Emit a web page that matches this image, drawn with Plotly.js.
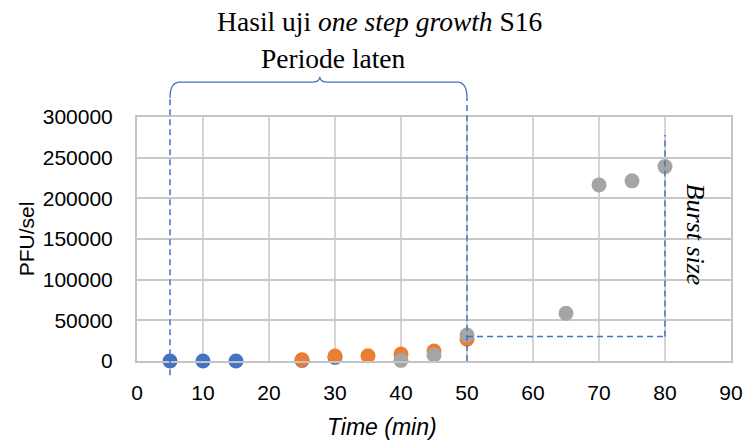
<!DOCTYPE html>
<html><head><meta charset="utf-8">
<script src="https://cdn.plot.ly/plotly-3.0.1.min.js"></script>
<style>html,body{margin:0;padding:0;background:#fff}</style>
</head><body><div id="chart" style="width:746px;height:441px"></div>
<script>
// Data
const blueX = [5, 10, 15, 25, 30];
const blueY = [0, 0, 0, 800, 4500];
const orangeX = [25, 30, 35, 40, 45, 50];
const orangeY = [1500, 6000, 6500, 8600, 12300, 26700];
const grayX = [40, 45, 50, 65, 70, 75, 80];
const grayY = [800, 7400, 32000, 58700, 216500, 221500, 239000];
const xTicks = [0, 10, 20, 30, 40, 50, 60, 70, 80, 90];
const yTicks = [0, 50000, 100000, 150000, 200000, 250000, 300000];
// annotation anchors (data units)
const latentStart = 5, latentEnd = 50, burstTime = 80, burstLevel = 30000;

const mk = (x, y, c) => ({x, y, type: 'scatter', mode: 'markers', cliponaxis: false,
  marker: {color: c, size: 15}, hoverinfo: 'skip', showlegend: false});
const dashLine = {color: '#4472C4', width: 1.5, dash: '6px,4px'};
const bracketY0 = 1.078, bracketY1 = 1.143, bracketPeak = 1.165;
const mid = (latentStart + latentEnd) / 2 + 0.2;
const bracketPath = `M ${latentStart},${bracketY0} Q ${latentStart},${bracketY1} ${latentStart+1.5},${bracketY1} L ${mid-1.2},${bracketY1} Q ${mid},${bracketY1} ${mid},${bracketPeak} Q ${mid},${bracketY1} ${mid+1.2},${bracketY1} L ${latentEnd-1.5},${bracketY1} Q ${latentEnd},${bracketY1} ${latentEnd},${bracketY0}`;

const layout = {
  width: 746, height: 441,
  margin: {l: 137, r: 15, t: 117, b: 80},
  paper_bgcolor: '#fff', plot_bgcolor: '#fff',
  font: {family: 'Liberation Sans, Arial, sans-serif', color: '#000'},
  title: {text: 'Hasil uji <i>one step growth</i> S16', x: 0.509, xanchor: 'center', y: 0.952, yanchor: 'middle',
    font: {family: 'Liberation Serif, serif', size: 27.5, color: '#000'}},
  xaxis: {range: [0, 90], tickmode: 'array', tickvals: xTicks, ticktext: xTicks.map(String), showgrid: true, gridcolor: '#d4d4d4', gridwidth: 2,
    showline: true, mirror: true, linecolor: '#c4c4c4', linewidth: 2, zeroline: false, ticks: '', ticklabelstandoff: 12,
    tickfont: {size: 21, color: '#000'}},
  yaxis: {range: [0, 300000], tickmode: 'array', tickvals: yTicks, ticktext: yTicks.map(String),
    showgrid: true, gridcolor: '#c8c8c8', gridwidth: 2,
    showline: true, mirror: true, linecolor: '#c4c4c4', linewidth: 2, zeroline: false, ticks: '', ticklabelstandoff: 18,
    tickfont: {size: 21, color: '#000'},
    title: {text: 'PFU/sel', font: {size: 21, color: '#000'}, standoff: 2}},
  shapes: [
    {type: 'line', xref: 'x', yref: 'paper', x0: latentStart, x1: latentStart, y0: -0.058, y1: bracketY0, line: dashLine},
    {type: 'line', xref: 'x', yref: 'paper', x0: latentEnd, x1: latentEnd, y0: 0, y1: bracketY0, line: dashLine},
    {type: 'line', xref: 'x', yref: 'y', x0: latentEnd, x1: burstTime, y0: burstLevel, y1: burstLevel, line: dashLine},
    {type: 'line', xref: 'x', yref: 'y', x0: burstTime, x1: burstTime, y0: burstLevel, y1: 278000, line: dashLine},
    {type: 'path', xref: 'x', yref: 'paper', path: bracketPath, line: {color: '#4472C4', width: 1.3}}
  ],
  annotations: [
    {text: 'Periode laten', xref: 'x', yref: 'paper', x: mid + 2, y: 1.24, showarrow: false,
      xanchor: 'center', yanchor: 'middle', font: {family: 'Liberation Serif, serif', size: 27.5, color: '#000'}},
    {text: '<i>Burst size</i>', xref: 'x', yref: 'y', x: 84.6, y: 155000, showarrow: false, textangle: 90,
      xanchor: 'center', yanchor: 'middle', font: {family: 'Liberation Serif, serif', size: 26, color: '#000'}},
    {text: '<i>Time (min)</i>', xref: 'x', yref: 'paper', x: 37.1, y: -0.27, showarrow: false,
      xanchor: 'center', yanchor: 'middle', font: {size: 23, color: '#000'}}
  ]
};
Plotly.newPlot('chart', [mk(blueX, blueY, '#4472C4'), mk(orangeX, orangeY, '#ED7D31'), mk(grayX, grayY, '#A5A5A5')], layout, {staticPlot: true});
</script></body></html>
